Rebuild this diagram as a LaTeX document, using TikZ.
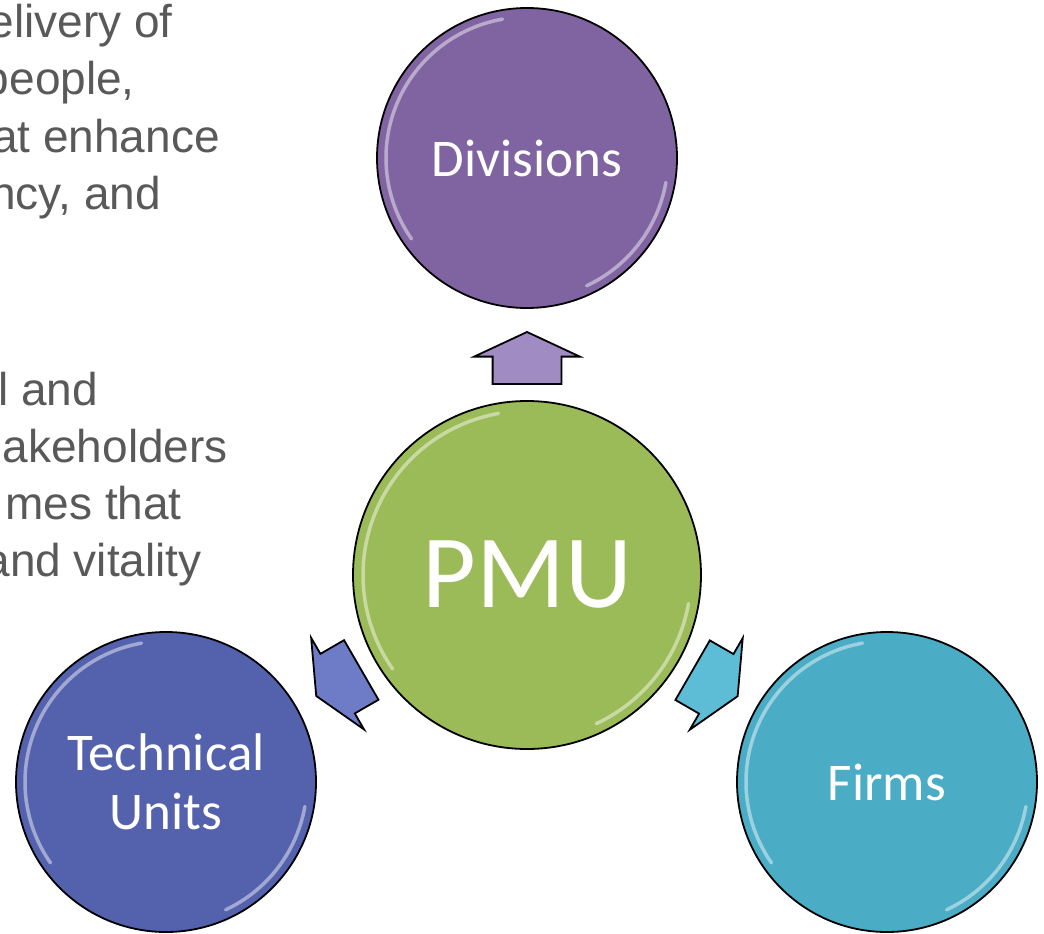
\documentclass[tikz,border=0pt]{standalone}
\usepackage{fontspec}
\setmainfont{Carlito}
\newfontfamily\sidefont{Liberation Sans}
\usetikzlibrary{shapes.arrows,calc}

\definecolor{divfill}{HTML}{8064A2}
\definecolor{pmufill}{HTML}{9BBB59}
\definecolor{techfill}{HTML}{5462AE}
\definecolor{firmfill}{HTML}{4BACC6}
\definecolor{divarrow}{HTML}{A08BC3}
\definecolor{techarrow}{HTML}{6E7CC8}
\definecolor{firmarrow}{HTML}{5DBCD6}
\definecolor{sidegray}{HTML}{595959}

\begin{document}
\begin{tikzpicture}[x=1pt, y=-1pt]
    \tikzset{
      bubble/.style={circle, draw=black, line width=1.8pt, text=white, inner sep=0pt,
        minimum size=300pt, align=center, font=\fontsize{53}{59}\selectfont},
      blockarrow/.style={single arrow, draw=black, line width=1.8pt, inner xsep=0pt,
        inner ysep=33.5pt, minimum height=52pt, single arrow head extend=18.5pt,
        single arrow tip angle=130},
      sidetext/.style={anchor=base east, text=sidegray, inner sep=0pt,
        font=\sidefont\fontsize{46}{55}\selectfont},
      gloss/.style={white, opacity=0.45, line width=3.5pt, line cap=round}
    }
    \useasboundingbox (0,0) rectangle (1044,934);

    \begin{scope}
      \clip (0,0) rectangle (340,620);
      \node[sidetext] (l1) at (173,38)  {elivery of};
      \node[sidetext] (l2) at (135,95)  {people,};
      \node[sidetext] (l3) at (220,152) {at enhance};
      \node[sidetext] (l4) at (161,209) {ncy, and};
      \node[sidetext] (l5) at (98,405)  {l and};
      \node[sidetext] (l6) at (228,462) {akeholders};
      \node[sidetext] (l7) at (182,519) {mes that};
      \node[sidetext] (l8) at (202,576) {and vitality};
    \end{scope}

    \node[bubble, fill=pmufill, minimum size=348pt, font=\fontsize{104}{110}\selectfont] (pmu) at (527,575) {PMU};
    \node[bubble, fill=divfill] (div) at (527,158) {Divisions};
    \node[bubble, fill=techfill] (tech) at (166,782) {Technical\\Units};
    \node[bubble, fill=firmfill] (firm) at (887,782) {Firms};

    \foreach \c/\r in {pmu/164pt, div/141pt, tech/141pt, firm/141pt} {
      \draw[gloss] ($(\c.center)+(100:\r)$) arc[start angle=100, end angle=215, radius=\r];
      \draw[gloss] ($(\c.center)+(-10:\r)$) arc[start angle=-10, end angle=-65, radius=\r];
    }

    \node[blockarrow, fill=divarrow, rotate=90] (adiv) at ($(pmu)!209pt!(div)$) {};
    \node[blockarrow, fill=techarrow, rotate=210] (atech) at ($(pmu)!209pt!(tech)$) {};
    \node[blockarrow, fill=firmarrow, rotate=-30] (afirm) at ($(pmu)!209pt!(firm)$) {};
  \end{tikzpicture}
\end{document}
